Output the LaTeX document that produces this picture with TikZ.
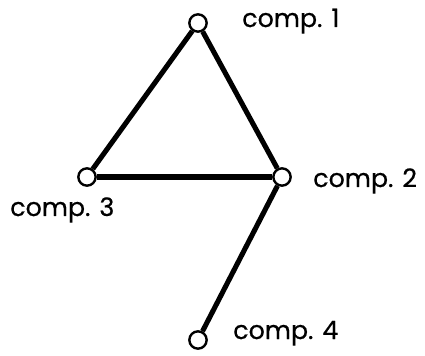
\documentclass[tikz,border=0pt]{standalone}
\usepackage{fontspec}
\setmainfont{Poppins}[FakeBold=0.6]
\begin{document}
\begin{tikzpicture}[x=0.75pt, y=-0.75pt]
\tikzset{
  comp/.style={circle, draw, line width=1.8pt, fill=white, minimum size=13pt, inner sep=0pt},
  lbl/.style={font=\fontsize{19}{22}\selectfont, inner sep=0pt, anchor=base west},
  bond/.style={line width=3.8pt}
}
\useasboundingbox (0,0) rectangle (425,356);
% Komponenten
\node[comp] (c1) at (198,23) {};
\node[comp] (c2) at (282,177) {};
\node[comp] (c3) at (87,177) {};
\node[comp] (c4) at (198,340) {};
% Beschriftungen
\node[lbl] (l1) at (242,27) {comp. 1};
\node[lbl] (l2) at (313,187) {comp. 2};
\node[lbl] (l3) at (10,216) {comp. 3};
\node[lbl] (l4) at (233,339) {comp. 4};
% Verbindungen
\draw[bond] (c1) -- (c3);
\draw[bond] (c1) -- (c2);
\draw[bond] (c3) -- (c2);
\draw[bond] (c2) -- (c4);
\end{tikzpicture}
\end{document}
